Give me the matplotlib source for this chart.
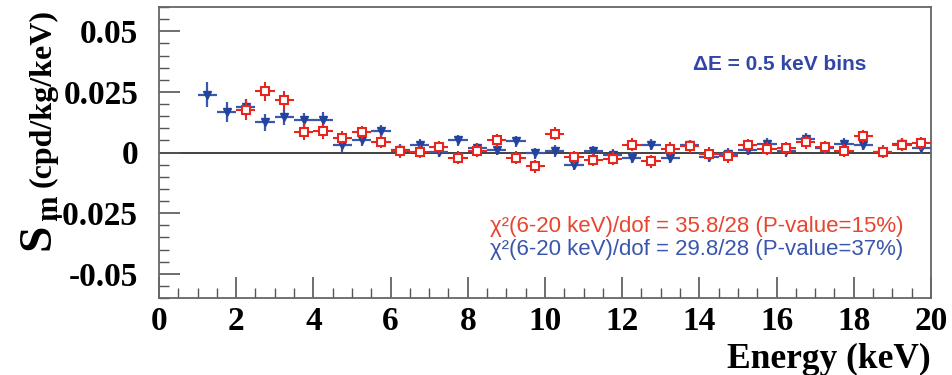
import matplotlib.pyplot as plt
from matplotlib.ticker import MultipleLocator, FixedLocator

plt.rcParams['axes.unicode_minus'] = False

# bin centres (keV), 0.5 keV bins
E_blue = [1.25, 1.75, 2.25, 2.75, 3.25, 3.75, 4.25, 4.75, 5.25, 5.75,
          6.25, 6.75, 7.25, 7.75, 8.25, 8.75, 9.25, 9.75, 10.25, 10.75,
          11.25, 11.75, 12.25, 12.75, 13.25, 13.75, 14.25, 14.75, 15.25, 15.75,
          16.25, 16.75, 17.25, 17.75, 18.25, 18.75, 19.25, 19.75]
Sm_blue = [0.0238, 0.0167, 0.0187, 0.0125, 0.0146, 0.0132, 0.0136, 0.0029, 0.0052, 0.0088,
           0.0011, 0.0032, 0.0003, 0.0050, 0.0018, 0.0012, 0.0047, -0.0003, 0.0006, -0.0050,
           0.0005, -0.0010, -0.0022, 0.0032, -0.0022, 0.0029, -0.0017, -0.0005, 0.0011, 0.0036,
           0.0005, 0.0057, 0.0018, 0.0036, 0.0032, 0.0001, 0.0036, 0.0018]
err_blue = [0.0052, 0.0042, 0.0035, 0.0035, 0.0032, 0.0030, 0.0030, 0.0026, 0.0025, 0.0025,
            0.0023, 0.0023, 0.0023, 0.0023, 0.0023, 0.0023, 0.0023, 0.0023, 0.0023, 0.0023,
            0.0023, 0.0023, 0.0023, 0.0023, 0.0023, 0.0023, 0.0023, 0.0023, 0.0023, 0.0023,
            0.0023, 0.0023, 0.0023, 0.0023, 0.0023, 0.0023, 0.0023, 0.0023]

E_red = [2.25, 2.75, 3.25, 3.75, 4.25, 4.75, 5.25, 5.75,
         6.25, 6.75, 7.25, 7.75, 8.25, 8.75, 9.25, 9.75, 10.25, 10.75,
         11.25, 11.75, 12.25, 12.75, 13.25, 13.75, 14.25, 14.75, 15.25, 15.75,
         16.25, 16.75, 17.25, 17.75, 18.25, 18.75, 19.25, 19.75]
Sm_red = [0.0176, 0.0252, 0.0215, 0.0085, 0.0087, 0.0061, 0.0083, 0.0045,
          0.0005, 0.0004, 0.0022, -0.0022, 0.0008, 0.0050, -0.0022, -0.0057, 0.0077, -0.0019,
          -0.0030, -0.0026, 0.0032, -0.0036, 0.0015, 0.0025, -0.0005, -0.0015, 0.0029, 0.0015,
          0.0018, 0.0043, 0.0022, 0.0008, 0.0066, 0.0003, 0.0032, 0.0038]
err_red = [0.0040, 0.0040, 0.0040, 0.0035, 0.0030, 0.0028, 0.0028, 0.0028,
           0.0027, 0.0027, 0.0027, 0.0027, 0.0027, 0.0027, 0.0027, 0.0027, 0.0027, 0.0027,
           0.0027, 0.0027, 0.0027, 0.0027, 0.0027, 0.0027, 0.0027, 0.0027, 0.0027, 0.0027,
           0.0027, 0.0027, 0.0027, 0.0027, 0.0027, 0.0027, 0.0027, 0.0027]

half_bin = 0.25
yticks = [-0.05, -0.025, 0, 0.025, 0.05]
ytick_labels = ['-0.05', '-0.025', '0', '0.025', '0.05']
xticks = [0, 2, 4, 6, 8, 10, 12, 14, 16, 18, 20]

red = '#E8261E'
blue = '#22449E'
serif = 'Liberation Serif'
sans = 'Liberation Sans'

fig = plt.figure(figsize=(9.53, 3.75), dpi=100)
ax = fig.add_axes([159/953, 1 - 298/375, (931 - 159)/953, (298 - 7)/375])

ax.axhline(0, color='#222222', lw=1.2, zorder=1)

ax.errorbar(E_blue, Sm_blue, yerr=err_blue, xerr=half_bin, fmt='v', color=blue,
            ms=6, elinewidth=1.6, capsize=0, ecolor='#3C58AC', zorder=3)
ax.errorbar(E_red, Sm_red, yerr=err_red, xerr=half_bin, fmt='s', color=red,
            mfc='white', mec=red, mew=1.5, ms=6, elinewidth=1.5, capsize=0, zorder=4)

ax.set_xlim(0, 20)
ax.set_ylim(-0.06, 0.06)

ax.xaxis.set_major_locator(FixedLocator(xticks))
ax.xaxis.set_minor_locator(MultipleLocator(0.5))
ax.set_yticks(yticks)
ax.set_yticklabels(ytick_labels)
ax.yaxis.set_minor_locator(MultipleLocator(0.005))

ax.tick_params(which='both', direction='in', top=False, right=False, color='#555555')
ax.tick_params(which='major', length=15, width=1.2)
ax.tick_params(which='minor', length=7, width=1.0)
ax.tick_params(axis='y', which='major', pad=15)
ax.tick_params(axis='x', which='major', pad=6)
for lab in ax.get_xticklabels() + ax.get_yticklabels():
    lab.set_fontfamily(serif)
    lab.set_fontweight('bold')
    lab.set_fontsize(24)

for sp in ax.spines.values():
    sp.set_color('#666666')
    sp.set_linewidth(1.3)

# axis titles
fig.text(931/953, 1 - 368/375, 'Energy (keV)', ha='right', va='baseline',
         fontfamily=serif, fontweight='bold', fontsize=25.5)
fig.text(38/953, 1 - 237/375, 'S', rotation=90, ha='center', va='center',
         fontfamily=serif, fontweight='bold', fontsize=34)
fig.text(50/953, 1 - 208/375, 'm', rotation=90, ha='center', va='center',
         fontfamily=serif, fontweight='bold', fontsize=22)
fig.text(43/953, 1 - 98/375, '(cpd/kg/keV)', rotation=90, ha='center', va='center',
         fontfamily=serif, fontweight='bold', fontsize=23)

# annotations
fig.text(693/953, 1 - 70/375, 'ΔE = 0.5 keV bins', ha='left', va='baseline',
         fontfamily=sans, fontweight='bold', fontsize=15, color='#3246A8')
fig.text(490/953, 1 - 232/375, 'χ²(6-20 keV)/dof = 35.8/28 (P-value=15%)',
         ha='left', va='baseline', fontfamily=sans, fontsize=16, color='#E8452E')
fig.text(490/953, 1 - 255/375, 'χ²(6-20 keV)/dof = 29.8/28 (P-value=37%)',
         ha='left', va='baseline', fontfamily=sans, fontsize=16, color='#3A55AE')

fig.savefig('out.png', dpi=100)
